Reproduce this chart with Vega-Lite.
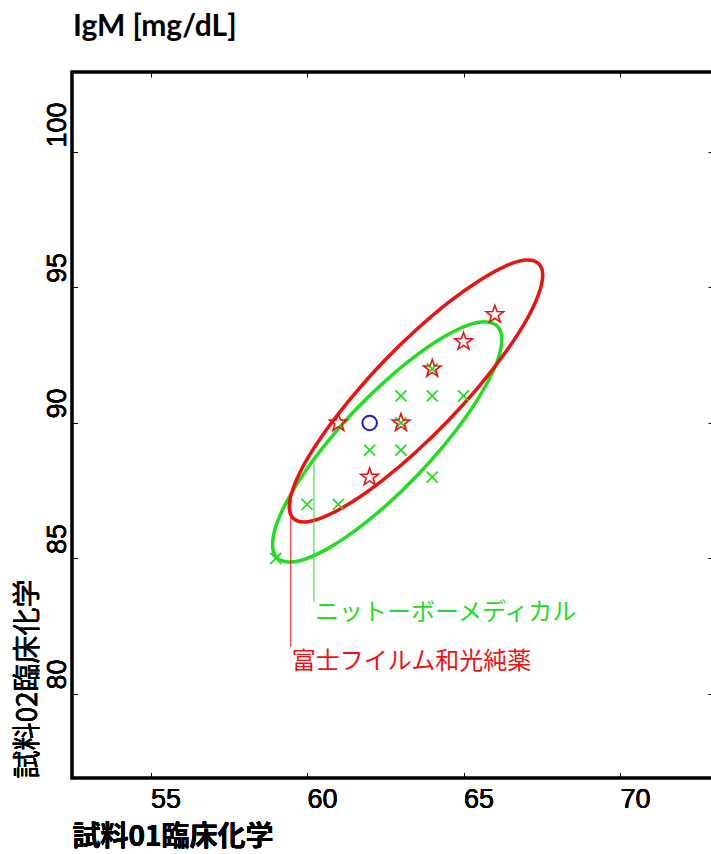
{
  "$schema": "https://vega.github.io/schema/vega-lite/v6.json",
  "width": 641,
  "height": 706,
  "autosize": {"type": "none"},
  "padding": {"left": 72, "top": 72, "right": 0, "bottom": 76},
  "background": "white",
  "title": {"text": "IgM [mg/dL]", "anchor": "start", "frame": "group", "font": "Lato", "fontSize": 30, "fontWeight": "bold", "color": "black", "baseline": "alphabetic", "offset": 6, "dx": 1},
  "config": {
    "font": "Liberation Sans",
    "view": {"stroke": "black", "strokeWidth": 3.5},
    "axis": {"grid": false, "domain": false, "tickColor": "black", "tickWidth": 1, "labelColor": "black", "titleColor": "black"}
  },
  "datasets": {
    "pts": [
      {"g": "ニットーボーメディカル", "x": 63, "y": 91},
      {"g": "ニットーボーメディカル", "x": 64, "y": 91},
      {"g": "ニットーボーメディカル", "x": 65, "y": 91},
      {"g": "ニットーボーメディカル", "x": 62, "y": 89},
      {"g": "ニットーボーメディカル", "x": 63, "y": 89},
      {"g": "ニットーボーメディカル", "x": 64, "y": 88},
      {"g": "ニットーボーメディカル", "x": 60, "y": 87},
      {"g": "ニットーボーメディカル", "x": 61, "y": 87},
      {"g": "ニットーボーメディカル", "x": 59, "y": 85},
      {"g": "ニットーボーメディカル", "x": 64, "y": 92},
      {"g": "ニットーボーメディカル", "x": 63, "y": 90},
      {"g": "富士フイルム和光純薬", "x": 66, "y": 94},
      {"g": "富士フイルム和光純薬", "x": 65, "y": 93},
      {"g": "富士フイルム和光純薬", "x": 64, "y": 92},
      {"g": "富士フイルム和光純薬", "x": 63, "y": 90},
      {"g": "富士フイルム和光純薬", "x": 61, "y": 90},
      {"g": "富士フイルム和光純薬", "x": 62, "y": 88},
      {"g": "target", "x": 62, "y": 90}
    ],
    "ell": [
      {"g": "ニットーボーメディカル", "i": 0, "x": 66.22, "y": 93.08},
      {"g": "ニットーボーメディカル", "i": 1, "x": 66.10, "y": 93.55},
      {"g": "ニットーボーメディカル", "i": 2, "x": 65.73, "y": 93.73},
      {"g": "ニットーボーメディカル", "i": 3, "x": 65.15, "y": 93.61},
      {"g": "ニットーボーメディカル", "i": 4, "x": 64.39, "y": 93.19},
      {"g": "ニットーボーメディカル", "i": 5, "x": 63.51, "y": 92.51},
      {"g": "ニットーボーメディカル", "i": 6, "x": 62.56, "y": 91.61},
      {"g": "ニットーボーメディカル", "i": 7, "x": 61.61, "y": 90.56},
      {"g": "ニットーボーメディカル", "i": 8, "x": 60.73, "y": 89.41},
      {"g": "ニットーボーメディカル", "i": 9, "x": 59.97, "y": 88.26},
      {"g": "ニットーボーメディカル", "i": 10, "x": 59.39, "y": 87.18},
      {"g": "ニットーボーメディカル", "i": 11, "x": 59.02, "y": 86.25},
      {"g": "ニットーボーメディカル", "i": 12, "x": 58.90, "y": 85.52},
      {"g": "ニットーボーメディカル", "i": 13, "x": 59.02, "y": 85.05},
      {"g": "ニットーボーメディカル", "i": 14, "x": 59.39, "y": 84.87},
      {"g": "ニットーボーメディカル", "i": 15, "x": 59.97, "y": 84.99},
      {"g": "ニットーボーメディカル", "i": 16, "x": 60.73, "y": 85.41},
      {"g": "ニットーボーメディカル", "i": 17, "x": 61.61, "y": 86.09},
      {"g": "ニットーボーメディカル", "i": 18, "x": 62.56, "y": 86.99},
      {"g": "ニットーボーメディカル", "i": 19, "x": 63.51, "y": 88.05},
      {"g": "ニットーボーメディカル", "i": 20, "x": 64.39, "y": 89.19},
      {"g": "ニットーボーメディカル", "i": 21, "x": 65.15, "y": 90.34},
      {"g": "ニットーボーメディカル", "i": 22, "x": 65.73, "y": 91.42},
      {"g": "ニットーボーメディカル", "i": 23, "x": 66.10, "y": 92.35},
      {"g": "富士フイルム和光純薬", "i": 0, "x": 67.53, "y": 95.45},
      {"g": "富士フイルム和光純薬", "i": 1, "x": 67.39, "y": 95.89},
      {"g": "富士フイルム和光純薬", "i": 2, "x": 66.99, "y": 96.01},
      {"g": "富士フイルム和光純薬", "i": 3, "x": 66.34, "y": 95.79},
      {"g": "富士フイルム和光純薬", "i": 4, "x": 65.51, "y": 95.26},
      {"g": "富士フイルム和光純薬", "i": 5, "x": 64.53, "y": 94.46},
      {"g": "富士フイルム和光純薬", "i": 6, "x": 63.48, "y": 93.43},
      {"g": "富士フイルム和光純薬", "i": 7, "x": 62.43, "y": 92.25},
      {"g": "富士フイルム和光純薬", "i": 8, "x": 61.46, "y": 90.99},
      {"g": "富士フイルム和光純薬", "i": 9, "x": 60.62, "y": 89.75},
      {"g": "富士フイルム和光純薬", "i": 10, "x": 59.97, "y": 88.60},
      {"g": "富士フイルム和光純薬", "i": 11, "x": 59.57, "y": 87.63},
      {"g": "富士フイルム和光純薬", "i": 12, "x": 59.43, "y": 86.91},
      {"g": "富士フイルム和光純薬", "i": 13, "x": 59.57, "y": 86.47},
      {"g": "富士フイルム和光純薬", "i": 14, "x": 59.97, "y": 86.35},
      {"g": "富士フイルム和光純薬", "i": 15, "x": 60.62, "y": 86.57},
      {"g": "富士フイルム和光純薬", "i": 16, "x": 61.46, "y": 87.10},
      {"g": "富士フイルム和光純薬", "i": 17, "x": 62.43, "y": 87.90},
      {"g": "富士フイルム和光純薬", "i": 18, "x": 63.48, "y": 88.93},
      {"g": "富士フイルム和光純薬", "i": 19, "x": 64.53, "y": 90.11},
      {"g": "富士フイルム和光純薬", "i": 20, "x": 65.51, "y": 91.37},
      {"g": "富士フイルム和光純薬", "i": 21, "x": 66.34, "y": 92.61},
      {"g": "富士フイルム和光純薬", "i": 22, "x": 66.99, "y": 93.76},
      {"g": "富士フイルム和光純薬", "i": 23, "x": 67.39, "y": 94.73}
    ],
    "leaders": [
      {"g": "ニットーボーメディカル", "x": 60.22, "y": 88.57, "y2": 83.41, "ly": 82.99},
      {"g": "富士フイルム和光純薬", "x": 59.48, "y": 87.27, "y2": 81.74, "ly": 81.19}
    ]
  },
  "encoding": {
    "x": {"field": "x", "type": "quantitative", "scale": {"domain": [52.49, 72.97], "nice": false, "zero": false},
      "axis": {"orient": "bottom", "values": [55, 60, 65, 70], "tickSize": -5, "labelFont": "Liberation Sans", "labelFontSize": 27, "labelFontWeight": "normal", "labelAlign": "left", "labelBaseline": "top", "labelPadding": 13, "labelOverlap": false,
        "title": "試料01臨床化学", "titleFont": "Noto Sans CJK JP", "titleFontSize": 28, "titleFontWeight": "bold", "titleAnchor": "start", "titleAlign": "left", "titleBaseline": "alphabetic", "titleX": 0, "titleY": 67}},
    "y": {"field": "y", "type": "quantitative", "scale": {"domain": [76.9, 102.95], "nice": false, "zero": false},
      "axis": {"orient": "left", "values": [80, 85, 90, 95, 100], "tickSize": -5, "labelFont": "Liberation Sans", "labelFontSize": 27, "labelFontWeight": "normal", "labelAngle": 270, "labelAlign": "left", "labelBaseline": "alphabetic", "labelPadding": 12, "labelOffset": -5, "labelOverlap": false,
        "title": "試料02臨床化学", "titleFont": "Noto Sans CJK JP", "titleFontSize": 28, "titleFontWeight": "normal", "titleAngle": 270, "titleAlign": "left", "titleBaseline": "bottom", "titleX": -30, "titleY": 706}}
  },
  "layer": [
    {
      "data": {"name": "ell"},
      "mark": {"type": "line", "interpolate": "cardinal-closed", "strokeWidth": 3.5},
      "encoding": {
        "x": {"field": "x", "type": "quantitative", "scale": {"domain": [52.49, 72.97], "nice": false, "zero": false},
          "axis": {"orient": "top", "values": [55, 60, 65, 70], "tickSize": -5, "labels": false, "title": null}},
        "y": {"field": "y", "type": "quantitative", "scale": {"domain": [76.9, 102.95], "nice": false, "zero": false},
          "axis": {"orient": "right", "values": [80, 85, 90, 95, 100], "tickSize": -5, "labels": false, "title": null}},
        "order": {"field": "i", "type": "quantitative"},
        "color": {"field": "g", "type": "nominal", "scale": {"domain": ["ニットーボーメディカル", "富士フイルム和光純薬"], "range": ["#22dd22", "#ee1111"]}, "legend": null}
      }
    },
    {
      "data": {"name": "pts"},
      "transform": [{"filter": "datum.g === 'ニットーボーメディカル'"}],
      "mark": {"type": "point", "shape": "M-1,-1L1,1M-1,1L1,-1", "filled": false, "stroke": "#22dd22", "strokeWidth": 1.8, "size": 121, "opacity": 1}
    },
    {
      "data": {"name": "pts"},
      "transform": [{"filter": "datum.g === '富士フイルム和光純薬'"}],
      "mark": {"type": "point", "shape": "M0,-1L0.235,-0.324L0.951,-0.309L0.38,0.124L0.588,0.809L0,0.4L-0.588,0.809L-0.38,0.124L-0.951,-0.309L-0.235,-0.324Z", "filled": false, "stroke": "#ee1111", "strokeWidth": 1.6, "size": 340, "opacity": 1}
    },
    {
      "data": {"name": "pts"},
      "transform": [{"filter": "datum.g === 'target'"}],
      "mark": {"type": "point", "shape": "circle", "filled": false, "stroke": "#1a1add", "strokeWidth": 2, "size": 210, "opacity": 1}
    },
    {
      "data": {"name": "leaders"},
      "mark": {"type": "rule", "strokeWidth": 1},
      "encoding": {
        "y2": {"field": "y2"},
        "color": {"field": "g", "type": "nominal", "scale": {"domain": ["ニットーボーメディカル", "富士フイルム和光純薬"], "range": ["#22dd22", "#ee1111"]}, "legend": null}
      }
    },
    {
      "data": {"name": "leaders"},
      "mark": {"type": "text", "align": "left", "baseline": "middle", "font": "Noto Sans CJK JP", "fontSize": 24, "dx": 1},
      "encoding": {
        "y": {"field": "ly", "type": "quantitative", "scale": {"domain": [76.9, 102.95], "nice": false, "zero": false}},
        "text": {"field": "g"},
        "color": {"field": "g", "type": "nominal", "scale": {"domain": ["ニットーボーメディカル", "富士フイルム和光純薬"], "range": ["#22dd22", "#ee1111"]}, "legend": null}
      }
    }
  ],
  "resolve": {"axis": {"x": "independent", "y": "independent"}}
}
